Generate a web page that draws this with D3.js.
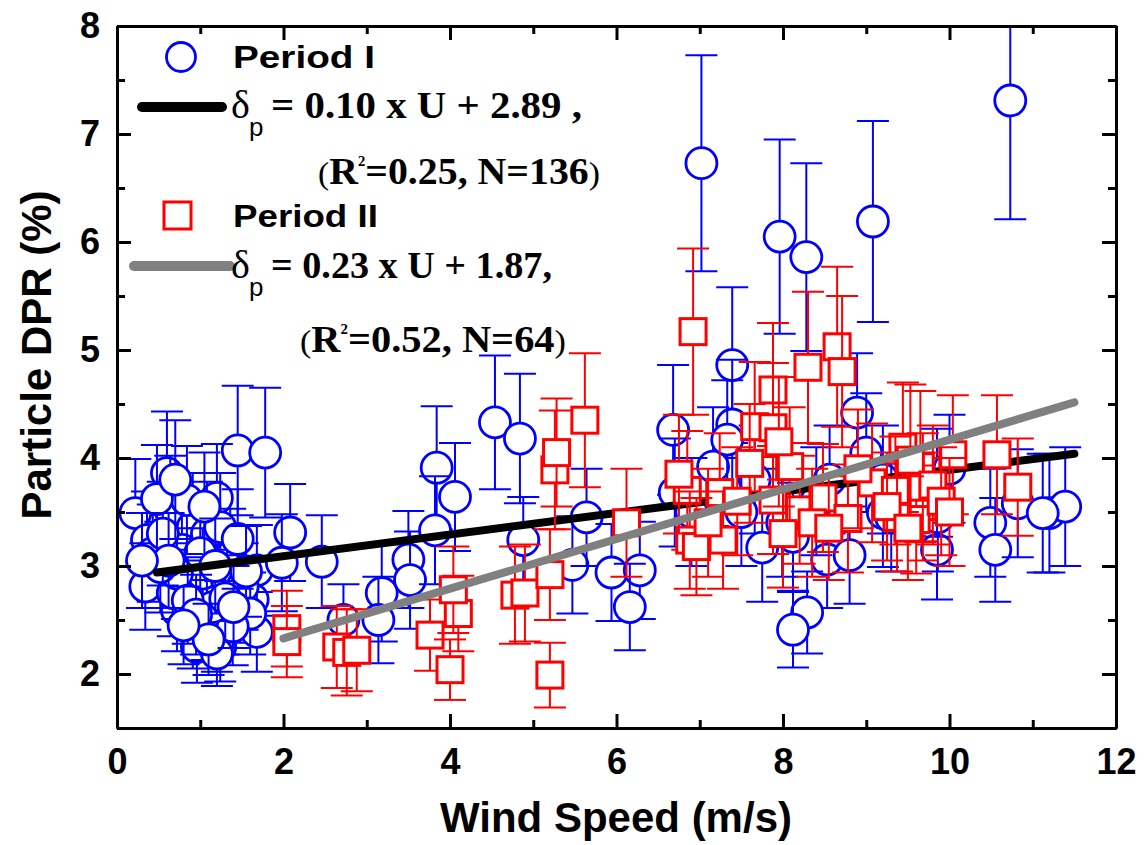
<!DOCTYPE html>
<html>
<head>
<meta charset="utf-8">
<title>Particle DPR vs Wind Speed</title>
<script src="https://cdn.jsdelivr.net/npm/d3@7"></script>
<style>
  body { margin: 0; background: #fff; }
  .axis text { font-family: "Liberation Sans", Arial, sans-serif; font-weight: bold; font-size: 36px; fill: #000; }
</style>
</head>
<body>
<div id="chart"></div>
<script>
// Period I (blue circles): wind speed, DPR, error
var p1X = [0.22,0.60,1.45,1.78,1.20,0.64,0.36,0.43,0.34,0.91,0.78,1.08,1.36,1.68,1.63,1.68,2.08,1.98,0.72,0.91,
           1.20,1.24,0.96,0.67,0.91,1.12,1.28,1.03,0.72,1.32,1.51,1.00,0.84,0.52,1.60,1.08,1.39,1.20,0.55,1.24,
           0.48,0.70,1.05,1.15,0.85,1.30,0.62,1.18,0.95,1.45,1.55,0.30,1.10,0.80,1.40,
           2.46,2.72,3.18,3.14,3.50,3.52,3.84,4.06,3.82,4.54,4.84,4.88,5.47,5.64,5.94,6.28,6.16,6.68,
           7.02,7.96,8.28,9.08,10.73,7.39,7.39,8.89,7.16,7.66,6.70,9.00,7.75,8.12,8.53,8.29,8.12,9.85,9.86,9.85,
           10.49,10.55,10.82,11.20,11.39,9.20,7.99,8.56,9.20,11.12,7.33,8.80,9.30,6.90,8.40,7.50,10.00];
var p1Y = [3.49,3.86,4.07,4.05,3.63,3.52,3.24,3.12,2.81,3.36,3.15,3.30,3.08,2.96,2.69,2.39,3.31,3.03,2.59,2.41,
           2.38,2.25,2.25,2.75,2.81,2.75,2.56,2.93,2.93,2.87,2.81,3.12,3.61,2.99,2.56,2.50,2.44,2.19,3.30,3.36,
           3.62,3.80,3.55,2.62,2.68,2.70,3.05,3.00,2.55,3.25,2.95,3.05,2.32,2.45,2.62,
           3.04,2.50,2.75,2.50,3.06,2.87,3.91,3.64,3.33,4.33,4.18,3.24,3.01,3.45,2.94,2.96,2.62,4.26,
           6.73,6.05,5.86,6.19,7.31,4.86,4.31,4.42,3.92,3.80,3.68,4.05,3.17,3.27,3.06,2.57,2.41,3.15,3.45,3.77,
           3.40,3.15,3.58,3.49,3.55,3.49,3.40,3.80,3.80,3.49,4.17,3.10,3.45,3.50,3.60,3.50,3.90];
var p1Err = [0.50,0.57,0.60,0.60,0.50,0.50,0.45,0.45,0.40,0.50,0.45,0.48,0.45,0.42,0.40,0.37,0.45,0.45,0.38,0.36,
             0.36,0.32,0.33,0.40,0.40,0.40,0.38,0.42,0.42,0.40,0.40,0.45,0.50,0.42,0.38,0.37,0.36,0.30,0.48,0.50,
             0.50,0.55,0.50,0.38,0.40,0.40,0.44,0.44,0.37,0.46,0.42,0.44,0.33,0.36,0.38,
             0.43,0.33,0.45,0.40,0.45,0.45,0.57,0.50,0.50,0.62,0.60,0.40,0.45,0.45,0.45,0.45,0.40,0.60,
             1.00,0.90,0.87,0.93,1.10,0.72,0.60,0.55,0.55,0.50,0.50,0.55,0.50,0.50,0.45,0.38,0.35,0.46,0.50,0.50,
             0.50,0.48,0.50,0.55,0.55,0.50,0.50,0.50,0.50,0.55,0.55,0.45,0.50,0.50,0.50,0.50,0.50];

// Period II (red squares)
var p2X = [2.04,2.04,2.64,2.76,2.88,3.76,4.10,4.00,4.04,4.78,4.90,5.20,5.20,5.26,5.28,5.62,6.12,6.92,8.65,8.30,
           8.71,7.88,7.66,7.88,6.85,7.24,8.20,8.48,8.78,9.07,7.88,6.88,7.28,9.65,9.68,9.60,9.44,8.08,10.04,10.57,
           10.82,6.96,9.68,9.35,9.37,9.53,7.10,7.45,8.00,8.35,9.80,9.25,7.95,8.55,6.75,9.90,9.50,7.60,8.90,10.00];
var p2Y = [2.42,2.30,2.25,2.20,2.22,2.36,2.56,2.04,2.78,2.73,2.75,2.92,1.99,3.89,4.05,4.35,3.40,5.17,5.03,4.84,
           4.80,4.63,4.29,4.28,3.70,3.68,3.52,3.63,3.44,3.77,3.61,3.24,3.24,3.92,3.55,3.43,4.10,3.92,4.03,4.03,
           3.73,3.18,3.73,3.70,3.45,3.98,3.40,3.60,3.30,3.40,3.75,3.55,4.15,3.35,3.85,3.60,3.35,3.95,3.90,3.50];
var p2Err = [0.35,0.33,0.38,0.40,0.38,0.33,0.35,0.28,0.40,0.45,0.45,0.42,0.30,0.55,0.50,0.62,0.50,0.77,0.74,0.70,
             0.70,0.62,0.60,0.60,0.55,0.55,0.50,0.50,0.50,0.55,0.50,0.45,0.45,0.70,0.50,0.50,0.60,0.55,0.55,0.55,
             0.45,0.45,0.50,0.50,0.50,0.70,0.50,0.50,0.50,0.50,0.55,0.50,0.60,0.48,0.55,0.50,0.48,0.55,0.55,0.50];

// linear fits, end points
var fit1X = [0.48, 11.5], fit1Y = [2.94, 4.04];
var fit2X = [2.0, 11.5],  fit2Y = [2.33, 4.515];

var xMajor = [0, 2, 4, 6, 8, 10, 12], xMinor = [1, 3, 5, 7, 9, 11];
var yMajor = [2, 3, 4, 5, 6, 7, 8],   yMinor = [1.5, 2.5, 3.5, 4.5, 5.5, 6.5, 7.5];

var W = 1145, H = 845;
var pL = 117, pR = 1116, pT = 26, pB = 728;

var svg = d3.select("#chart").append("svg")
    .attr("width", W).attr("height", H);

var x = d3.scaleLinear().domain([0, 12]).range([pL, pR]);
var y = d3.scaleLinear().domain([1.5, 8]).range([pB, pT]);

svg.append("clipPath").attr("id", "plotclip")
  .append("rect").attr("x", pL).attr("y", pT)
    .attr("width", pR - pL).attr("height", pB - pT);

var plot = svg.append("g").attr("clip-path", "url(#plotclip)");

function drawSeries(xs, ys, errs, color, shape) {
  var g = plot.append("g");
  xs.forEach(function(xv, i) {
    var cx = x(xv), cy = y(ys[i]);
    var yt = y(ys[i] + errs[i]), yb = y(ys[i] - errs[i]);
    var p = g.append("g");
    p.append("line").attr("x1", cx).attr("x2", cx).attr("y1", yt).attr("y2", yb)
      .attr("stroke", color).attr("stroke-width", 2);
    [yt, yb].forEach(function(cy2) {
      p.append("line").attr("x1", cx - 16).attr("x2", cx + 16).attr("y1", cy2).attr("y2", cy2)
        .attr("stroke", color).attr("stroke-width", 2);
    });
    if (shape == "circle") {
      p.append("circle").attr("cx", cx).attr("cy", cy).attr("r", 15.5)
        .attr("fill", "#fff").attr("stroke", color).attr("stroke-width", 2.8);
    } else {
      p.append("rect").attr("x", cx - 13).attr("y", cy - 13).attr("width", 26).attr("height", 26)
        .attr("fill", "#fff").attr("stroke", color).attr("stroke-width", 3);
    }
  });
}

function drawFit(xs, ys, color) {
  plot.append("line")
    .attr("x1", x(xs[0])).attr("y1", y(ys[0]))
    .attr("x2", x(xs[1])).attr("y2", y(ys[1]))
    .attr("stroke", color).attr("stroke-width", 8).attr("stroke-linecap", "round");
}

drawSeries(p1X, p1Y, p1Err, "#0000ff", "circle");
drawFit(fit1X, fit1Y, "#000");
drawSeries(p2X, p2Y, p2Err, "#ff0000", "square");
drawFit(fit2X, fit2Y, "#808080");

// axes, ticks pointing inward
function styleAxis(g) {
  g.attr("class", "axis");
  g.select(".domain").attr("stroke-width", 3).attr("stroke", "#000");
  g.selectAll(".tick line").attr("stroke-width", 3).attr("stroke", "#000");
}
var fmt = d3.format("d");
svg.append("g").attr("transform", "translate(0," + pB + ")")
  .call(d3.axisBottom(x).tickValues(xMajor).tickFormat(fmt).tickSizeInner(-14).tickSizeOuter(0).tickPadding(20))
  .call(styleAxis);
svg.append("g").attr("transform", "translate(0," + pB + ")")
  .call(d3.axisBottom(x).tickValues(xMinor).tickSizeInner(-8).tickSizeOuter(0).tickFormat(""))
  .call(styleAxis);
svg.append("g").attr("transform", "translate(0," + pT + ")")
  .call(d3.axisTop(x).tickValues(xMajor).tickSizeInner(-14).tickSizeOuter(0).tickFormat(""))
  .call(styleAxis);
svg.append("g").attr("transform", "translate(0," + pT + ")")
  .call(d3.axisTop(x).tickValues(xMinor).tickSizeInner(-8).tickSizeOuter(0).tickFormat(""))
  .call(styleAxis);
svg.append("g").attr("transform", "translate(" + pL + ",0)")
  .call(d3.axisLeft(y).tickValues(yMajor).tickFormat(fmt).tickSizeInner(-14).tickSizeOuter(0).tickPadding(17))
  .call(styleAxis);
svg.append("g").attr("transform", "translate(" + pL + ",0)")
  .call(d3.axisLeft(y).tickValues(yMinor).tickSizeInner(-8).tickSizeOuter(0).tickFormat(""))
  .call(styleAxis);
svg.append("g").attr("transform", "translate(" + pR + ",0)")
  .call(d3.axisRight(y).tickValues(yMajor).tickSizeInner(-14).tickSizeOuter(0).tickFormat(""))
  .call(styleAxis);
svg.append("g").attr("transform", "translate(" + pR + ",0)")
  .call(d3.axisRight(y).tickValues(yMinor).tickSizeInner(-8).tickSizeOuter(0).tickFormat(""))
  .call(styleAxis);

// axis titles
svg.append("text")
  .attr("x", 616).attr("y", 832).attr("text-anchor", "middle")
  .style("font-family", "Liberation Sans, Arial, sans-serif").style("font-weight", "bold").style("font-size", "42px")
  .text("Wind Speed (m/s)");
svg.append("text")
  .attr("transform", "translate(51,355) rotate(-90)").attr("text-anchor", "middle")
  .style("font-family", "Liberation Sans, Arial, sans-serif").style("font-weight", "bold").style("font-size", "42px")
  .text("Particle DPR (%)");

// legend
var sans = "Liberation Sans, Arial, sans-serif", serif = "Liberation Serif, Times New Roman, serif";
var leg = svg.append("g");

// squeeze a text group into a given horizontal span
function fitSpan(t, x0, x1) {
  var w = t.node().getBBox().width;
  t.attr("transform", "translate(" + x0 + ",0) scale(" + ((x1 - x0) / w) + ",1)");
}

leg.append("circle").attr("cx", 181).attr("cy", 57).attr("r", 14.5)
  .attr("fill", "none").attr("stroke", "#0000ff").attr("stroke-width", 2.8);
fitSpan(leg.append("text").attr("y", 68).style("font-family", sans).style("font-weight", "bold")
  .style("font-size", "32px").text("Period I"), 233, 375);

leg.append("line").attr("x1", 142).attr("x2", 222).attr("y1", 107).attr("y2", 107)
  .attr("stroke", "#000").attr("stroke-width", 10).attr("stroke-linecap", "round");

leg.append("rect").attr("x", 164).attr("y", 202).attr("width", 27).attr("height", 27)
  .attr("fill", "none").attr("stroke", "#ff0000").attr("stroke-width", 3);
fitSpan(leg.append("text").attr("y", 227).style("font-family", sans).style("font-weight", "bold")
  .style("font-size", "32px").text("Period II"), 233, 378);

leg.append("line").attr("x1", 134).attr("x2", 230).attr("y1", 266).attr("y2", 266)
  .attr("stroke", "#808080").attr("stroke-width", 10).attr("stroke-linecap", "round");

function equation(yb, body, x1) {
  leg.append("text").attr("x", 231).attr("y", yb).style("font-family", serif).style("font-size", "40px").text("δ");
  leg.append("text").attr("x", 249).attr("y", yb + 18).style("font-family", sans).style("font-size", "26px").text("p");
  var t = leg.append("text").attr("y", yb).style("font-family", serif).style("font-weight", "bold")
    .style("font-size", "38px").text(body);
  fitSpan(t, 271, x1);
}
equation(118, "= 0.10 x U + 2.89 ,", 582);
equation(278, "= 0.23 x U + 1.87,", 552);

function stats(yb, body, x0, x1) {
  var t = leg.append("text").attr("y", yb).style("font-family", serif).style("font-size", "38px");
  t.append("tspan").style("font-size", "32px").text("(");
  t.append("tspan").style("font-weight", "bold").text("R");
  t.append("tspan").style("font-size", "14px").style("font-weight", "bold").attr("dy", -18).text("2");
  t.append("tspan").style("font-weight", "bold").attr("dy", 18).text(body);
  t.append("tspan").style("font-size", "32px").text(")");
  fitSpan(t, x0, x1);
}
stats(184, "=0.25, N=136", 318, 600);
stats(352, "=0.52, N=64", 300, 566);
</script>
</body>
</html>
